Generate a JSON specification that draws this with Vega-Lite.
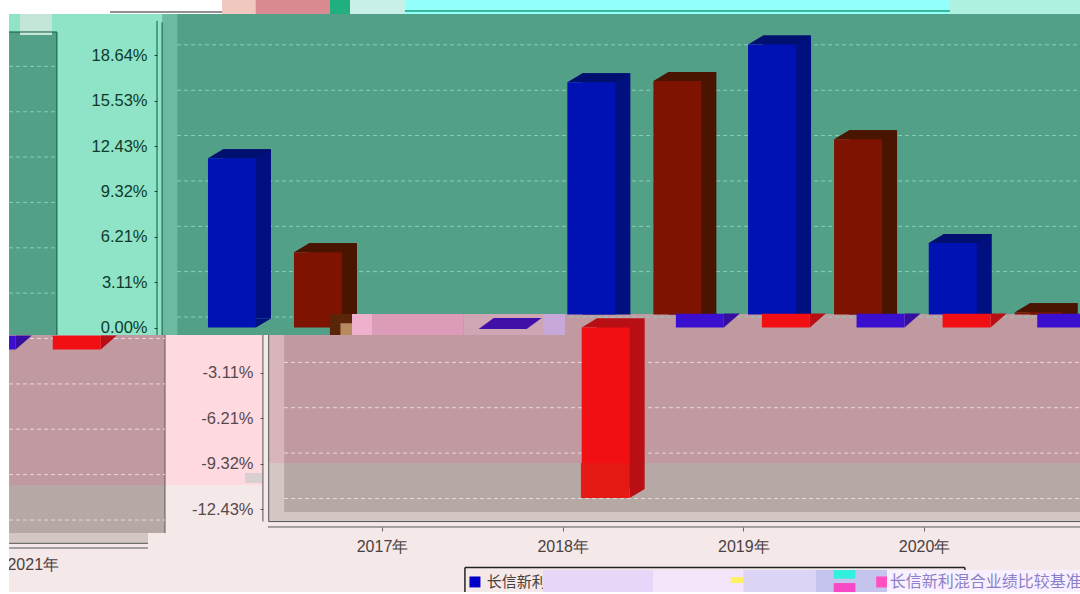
{
"$schema":"https://vega.github.io/schema/vega-lite/v6.json",
"autosize":{"type":"none"},"padding":0,"width":1080,"height":594,"background":"#ffffff",
"config":{"view":{"stroke":null}},
"data":{"values":[{"frame":"chart"}]},
"datasets":{
"early":[{"year":2017,"series":"长信新利混合","value":11.6},{"year":2017,"series":"长信新利混合业绩比较基准","value":5.15}],
"late":[{"year":2019,"series":"长信新利混合","value":15.9},{"year":2020,"series":"长信新利混合","value":18.5},{"year":2021,"series":"长信新利混合","value":4.9},{"year":2019,"series":"长信新利混合业绩比较基准","value":16.0},{"year":2020,"series":"长信新利混合业绩比较基准","value":12.0},{"year":2021,"series":"长信新利混合业绩比较基准","value":0.15}],
"neg":[{"year":2018,"series":"长信新利混合","value":-0.1},{"year":2018,"series":"长信新利混合业绩比较基准","value":-11.68}],
"seam":[{"year":2019,"series":"长信新利混合","value":0.95},{"year":2020,"series":"长信新利混合","value":0.95},{"year":2021,"series":"长信新利混合","value":0.95},{"year":2019,"series":"长信新利混合业绩比较基准","value":0.95},{"year":2020,"series":"长信新利混合业绩比较基准","value":0.95}],
"wrapped":[{"year":2021,"series":"长信新利混合","value":0.95},{"year":2021,"series":"长信新利混合业绩比较基准","value":0.95}],
"ticksPos":[{"tick":18.64},{"tick":15.53},{"tick":12.43},{"tick":9.32},{"tick":6.21},{"tick":3.11},{"tick":0}],
"ticksNeg":[{"tick":-3.11},{"tick":-6.21},{"tick":-9.32},{"tick":-12.43}],
"ticksNegZero":[{"tick":0},{"tick":-3.11},{"tick":-6.21},{"tick":-9.32},{"tick":-12.43}]
},
"resolve":{"axis":{"y":"independent"}},
"layer":[
{"mark":{"type":"rect","color":"#f5e8e8"},"encoding":{"x":{"datum":2014.936,"type":"quantitative","scale":{"domain":[2014.886,2020.863],"nice":false,"zero":false,"padding":0},"axis":{"values":[2017,2018,2019,2020],"orient":"bottom","offset":-67,"domain":false,"grid":false,"title":null,"tickSize":4,"tickColor":"#666666","labelExpr":"datum.value + '年'","labelFont":"Liberation Sans","labelFontSize":16,"labelColor":"#4a4040","labelPadding":7,"labelFlush":false,"labelOverlap":false,"zindex":1}},"x2":{"datum":2020.863},"y":{"datum":-0.514,"type":"quantitative","scale":{"domain":[-18.25,22.43],"nice":false,"zero":false},"axis":null},"y2":{"datum":-18.12}}},
{"mark":{"type":"rect","color":"#94fffa"},"encoding":{"x":{"datum":2016.546,"type":"quantitative"},"x2":{"datum":2020.863},"y":{"datum":22.43,"type":"quantitative","axis":null},"y2":{"datum":21.47}}},
{"mark":{"type":"rect","color":"#f0c8c0"},"encoding":{"x":{"datum":2016.115,"type":"quantitative"},"x2":{"datum":2016.3},"y":{"datum":22.43,"type":"quantitative","axis":null},"y2":{"datum":21.47}}},
{"mark":{"type":"rect","color":"#d88a90"},"encoding":{"x":{"datum":2016.3,"type":"quantitative"},"x2":{"datum":2016.712},"y":{"datum":22.43,"type":"quantitative","axis":null},"y2":{"datum":21.47}}},
{"mark":{"type":"rect","color":"#20b080"},"encoding":{"x":{"datum":2016.712,"type":"quantitative"},"x2":{"datum":2016.823},"y":{"datum":22.43,"type":"quantitative","axis":null},"y2":{"datum":21.47}}},
{"mark":{"type":"rect","color":"#c8f0e8"},"encoding":{"x":{"datum":2016.823,"type":"quantitative"},"x2":{"datum":2017.127},"y":{"datum":22.43,"type":"quantitative","axis":null},"y2":{"datum":21.47}}},
{"mark":{"type":"rect","color":"#b0f0e0"},"encoding":{"x":{"datum":2020.143,"type":"quantitative"},"x2":{"datum":2020.863},"y":{"datum":22.43,"type":"quantitative","axis":null},"y2":{"datum":21.47}}},
{"mark":{"type":"rule","color":"#38b89a","strokeWidth":2},"encoding":{"x":{"datum":2017.127,"type":"quantitative"},"x2":{"datum":2020.143},"y":{"datum":21.68,"type":"quantitative","axis":null}}},
{"mark":{"type":"rule","color":"#909090","strokeWidth":2},"encoding":{"x":{"datum":2015.495,"type":"quantitative"},"x2":{"datum":2016.115},"y":{"datum":21.6,"type":"quantitative","axis":null}}},
{"mark":{"type":"rect","color":"#8fe3c6"},"encoding":{"x":{"datum":2014.936,"type":"quantitative"},"x2":{"datum":2015.783},"y":{"datum":21.47,"type":"quantitative","axis":null},"y2":{"datum":-0.514}}},
{"mark":{"type":"rect","color":"#52a087"},"encoding":{"x":{"datum":2014.936,"type":"quantitative"},"x2":{"datum":2015.201},"y":{"datum":20.24,"type":"quantitative","axis":null},"y2":{"datum":-0.514}}},
{"mark":{"type":"rect","color":"#c4e6d6"},"encoding":{"x":{"datum":2014.997,"type":"quantitative"},"x2":{"datum":2015.174},"y":{"datum":21.47,"type":"quantitative","axis":null},"y2":{"datum":20.03}}},
{"mark":{"type":"rect","color":"#6cbaa2"},"encoding":{"x":{"datum":2015.783,"type":"quantitative"},"x2":{"datum":2015.866},"y":{"datum":21.47,"type":"quantitative","axis":null},"y2":{"datum":-0.514}}},
{"mark":{"type":"rect","color":"#52a087"},"encoding":{"x":{"datum":2015.866,"type":"quantitative"},"x2":{"datum":2020.863},"y":{"datum":21.47,"type":"quantitative","axis":null},"y2":{"datum":-0.514}}},
{"mark":{"type":"rect","color":"#c09aa0"},"encoding":{"x":{"datum":2014.936,"type":"quantitative"},"x2":{"datum":2015.799},"y":{"datum":-0.514,"type":"quantitative","axis":null},"y2":{"datum":-10.79}}},
{"mark":{"type":"rect","color":"#b5a8a5"},"encoding":{"x":{"datum":2014.936,"type":"quantitative"},"x2":{"datum":2015.799},"y":{"datum":-10.79,"type":"quantitative","axis":null},"y2":{"datum":-14.08}}},
{"mark":{"type":"rect","color":"#d3c6c3"},"encoding":{"x":{"datum":2014.936,"type":"quantitative"},"x2":{"datum":2015.705},"y":{"datum":-14.08,"type":"quantitative","axis":null},"y2":{"datum":-14.76}}},
{"mark":{"type":"rect","color":"#ffd9e0"},"encoding":{"x":{"datum":2015.799,"type":"quantitative"},"x2":{"datum":2016.341},"y":{"datum":-0.514,"type":"quantitative","axis":null},"y2":{"datum":-10.79}}},
{"mark":{"type":"rect","color":"#d8b4bc"},"encoding":{"x":{"datum":2016.373,"type":"quantitative"},"x2":{"datum":2016.458},"y":{"datum":-0.514,"type":"quantitative","axis":null},"y2":{"datum":-9.28}}},
{"mark":{"type":"rect","color":"#d3c6c3"},"encoding":{"x":{"datum":2016.373,"type":"quantitative"},"x2":{"datum":2016.458},"y":{"datum":-9.28,"type":"quantitative","axis":null},"y2":{"datum":-13.29}}},
{"mark":{"type":"rect","color":"#c09aa0"},"encoding":{"x":{"datum":2016.458,"type":"quantitative"},"x2":{"datum":2020.863},"y":{"datum":-0.514,"type":"quantitative","axis":null},"y2":{"datum":-9.28}}},
{"mark":{"type":"rect","color":"#c09aa0"},"encoding":{"x":{"datum":2018.013,"type":"quantitative"},"x2":{"datum":2020.863},"y":{"datum":0.925,"type":"quantitative","axis":null},"y2":{"datum":-0.514}}},
{"mark":{"type":"rect","color":"#b5a8a5"},"encoding":{"x":{"datum":2016.458,"type":"quantitative"},"x2":{"datum":2020.863},"y":{"datum":-9.28,"type":"quantitative","axis":null},"y2":{"datum":-12.64}}},
{"mark":{"type":"rect","color":"#d3c6c3"},"encoding":{"x":{"datum":2016.458,"type":"quantitative"},"x2":{"datum":2020.863},"y":{"datum":-12.64,"type":"quantitative","axis":null},"y2":{"datum":-13.29}}},
{"mark":{"type":"rule","color":"#555555"},"encoding":{"x":{"datum":2016.373,"type":"quantitative"},"x2":{"datum":2020.863},"y":{"datum":-13.29,"type":"quantitative","axis":null}}},
{"mark":{"type":"rule","color":"#555555"},"encoding":{"x":{"datum":2016.369,"type":"quantitative"},"x2":{"datum":2020.863},"y":{"datum":-13.66,"type":"quantitative","axis":null}}},
{"mark":{"type":"rule","color":"#555555"},"encoding":{"x":{"datum":2014.936,"type":"quantitative"},"x2":{"datum":2015.705},"y":{"datum":-14.78,"type":"quantitative","axis":null}}},
{"mark":{"type":"rule","color":"#555555"},"encoding":{"x":{"datum":2014.936,"type":"quantitative"},"x2":{"datum":2015.705},"y":{"datum":-15.1,"type":"quantitative","axis":null}}},
{"mark":{"type":"rule","color":"#555555"},"encoding":{"x":{"datum":2015.799,"type":"quantitative"},"y":{"datum":-0.514,"type":"quantitative","axis":null},"y2":{"datum":-14.08}}},
{"mark":{"type":"rule","color":"#555555"},"encoding":{"x":{"datum":2016.341,"type":"quantitative"},"y":{"datum":-0.514,"type":"quantitative","axis":null},"y2":{"datum":-13.29}}},
{"mark":{"type":"rule","color":"#555555"},"encoding":{"x":{"datum":2016.373,"type":"quantitative"},"y":{"datum":-0.514,"type":"quantitative","axis":null},"y2":{"datum":-13.29}}},
{"mark":{"type":"rule","color":"#0e5a44"},"encoding":{"x":{"datum":2015.755,"type":"quantitative"},"y":{"datum":21.0,"type":"quantitative","axis":null},"y2":{"datum":-0.514}}},
{"mark":{"type":"rule","color":"#0e5a44"},"encoding":{"x":{"datum":2015.783,"type":"quantitative"},"y":{"datum":20.9,"type":"quantitative","axis":null},"y2":{"datum":-0.514}}},
{"mark":{"type":"rule","color":"#0e5a44"},"encoding":{"x":{"datum":2015.201,"type":"quantitative"},"y":{"datum":20.24,"type":"quantitative","axis":null},"y2":{"datum":-0.514}}},
{"mark":{"type":"rule","color":"#0e5a44"},"encoding":{"x":{"datum":2014.936,"type":"quantitative"},"x2":{"datum":2015.201},"y":{"datum":20.24,"type":"quantitative","axis":null}}},
{"mark":{"type":"rect","color":"#d8d0d0"},"encoding":{"x":{"datum":2016.242,"type":"quantitative"},"x2":{"datum":2016.336},"y":{"datum":-9.97,"type":"quantitative","axis":null},"y2":{"datum":-10.65}}},
{"data":{"name":"ticksPos"},"mark":{"type":"rule","color":"#8ccdb8","strokeWidth":1,"strokeDash":[4,3],"yOffset":-10.5},"encoding":{"x":{"datum":2015.866,"type":"quantitative"},"x2":{"datum":2020.863},"y":{"field":"tick","type":"quantitative","axis":{"orient":"left","offset":-157,"values":[18.64,15.53,12.43,9.32,6.21,3.11,0],"labelExpr":"format(datum.value,'.2f') + '%'","title":null,"domain":false,"grid":false,"tickSize":3,"tickColor":"#0e4a38","labelColor":"#0e3a2c","labelFont":"Liberation Sans","labelFontSize":16.5,"labelPadding":7,"labelOverlap":false,"labelFlush":false,"zindex":1}}}},
{"data":{"name":"ticksPos"},"mark":{"type":"rule","color":"#8ccdb8","strokeWidth":1,"strokeDash":[4,3],"yOffset":11},"encoding":{"x":{"datum":2014.936,"type":"quantitative"},"x2":{"datum":2015.201},"y":{"field":"tick","type":"quantitative","axis":null}}},
{"data":{"name":"ticksNeg"},"mark":{"type":"rule","color":"#e8d8da","strokeWidth":1,"strokeDash":[4,3],"yOffset":-10.5},"encoding":{"x":{"datum":2016.458,"type":"quantitative"},"x2":{"datum":2020.863},"y":{"field":"tick","type":"quantitative","axis":{"orient":"left","offset":-263,"values":[-3.11,-6.21,-9.32,-12.43],"labelExpr":"'-' + format(abs(datum.value),'.2f') + '%'","title":null,"domain":false,"grid":false,"tickSize":3,"tickColor":"#555555","labelColor":"#554a4e","labelFont":"Liberation Sans","labelFontSize":16.5,"labelPadding":7,"labelOverlap":false,"labelFlush":false,"zindex":1}}}},
{"data":{"name":"ticksNegZero"},"mark":{"type":"rule","color":"#e8d8da","strokeWidth":1,"strokeDash":[4,3],"yOffset":11},"encoding":{"x":{"datum":2014.936,"type":"quantitative"},"x2":{"datum":2015.799},"y":{"field":"tick","type":"quantitative","axis":null}}},
{"data":{"name":"early"},"transform":[{"filter":"datum.series == '长信新利混合'"}],"mark":{"type":"bar","orient":"vertical","width":48,"color":"#001080","xOffset":-135,"yOffset":-9,"y2Offset":-9},"encoding":{"x":{"field":"year","type":"quantitative"},"y":{"field":"value","type":"quantitative","axis":null},"y2":{"datum":0}}},
{"data":{"name":"early"},"transform":[{"filter":"datum.series == '长信新利混合'"}],"mark":{"type":"point","filled":true,"opacity":1,"strokeWidth":0,"size":10000,"shape":"M-0.48,0L0.48,0L0.78,-0.18L-0.18,-0.18Z","color":"#001070","xOffset":-150},"encoding":{"x":{"field":"year","type":"quantitative"},"y":{"field":"value","type":"quantitative","axis":null}}},
{"data":{"name":"early"},"transform":[{"filter":"datum.series == '长信新利混合'"}],"mark":{"type":"point","filled":true,"opacity":1,"strokeWidth":0,"size":10000,"shape":"M0.48,0L0.78,-0.18L0.48,-0.18Z","color":"#001080","xOffset":-150},"encoding":{"x":{"field":"year","type":"quantitative"},"y":{"datum":0,"type":"quantitative","axis":null}}},
{"data":{"name":"early"},"transform":[{"filter":"datum.series == '长信新利混合'"}],"mark":{"type":"bar","orient":"vertical","width":48,"color":"#0012b4","xOffset":-150},"encoding":{"x":{"field":"year","type":"quantitative"},"y":{"field":"value","type":"quantitative","axis":null},"y2":{"datum":0}}},
{"data":{"name":"early"},"transform":[{"filter":"datum.series != '长信新利混合'"}],"mark":{"type":"bar","orient":"vertical","width":48,"color":"#4a1500","xOffset":-49,"yOffset":-9,"y2Offset":-9},"encoding":{"x":{"field":"year","type":"quantitative"},"y":{"field":"value","type":"quantitative","axis":null},"y2":{"datum":0}}},
{"data":{"name":"early"},"transform":[{"filter":"datum.series != '长信新利混合'"}],"mark":{"type":"point","filled":true,"opacity":1,"strokeWidth":0,"size":10000,"shape":"M-0.48,0L0.48,0L0.78,-0.18L-0.18,-0.18Z","color":"#4a1500","xOffset":-64},"encoding":{"x":{"field":"year","type":"quantitative"},"y":{"field":"value","type":"quantitative","axis":null}}},
{"data":{"name":"early"},"transform":[{"filter":"datum.series != '长信新利混合'"}],"mark":{"type":"bar","orient":"vertical","width":48,"color":"#7d1300","xOffset":-64},"encoding":{"x":{"field":"year","type":"quantitative"},"y":{"field":"value","type":"quantitative","axis":null},"y2":{"datum":0}}},
{"data":{"name":"late"},"transform":[{"filter":"datum.series == '长信新利混合'"}],"mark":{"type":"bar","orient":"vertical","width":48,"color":"#001080","xOffset":-137,"yOffset":-22,"y2Offset":-13},"encoding":{"x":{"field":"year","type":"quantitative"},"y":{"field":"value","type":"quantitative","axis":null},"y2":{"datum":0}}},
{"data":{"name":"late"},"transform":[{"filter":"datum.series == '长信新利混合'"}],"mark":{"type":"point","filled":true,"opacity":1,"strokeWidth":0,"size":10000,"shape":"M-0.48,0L0.48,0L0.78,-0.18L-0.18,-0.18Z","color":"#001070","xOffset":-152,"yOffset":-13},"encoding":{"x":{"field":"year","type":"quantitative"},"y":{"field":"value","type":"quantitative","axis":null}}},
{"data":{"name":"late"},"transform":[{"filter":"datum.series == '长信新利混合'"}],"mark":{"type":"bar","orient":"vertical","width":48,"color":"#0012b4","xOffset":-152,"yOffset":-13,"y2Offset":-13},"encoding":{"x":{"field":"year","type":"quantitative"},"y":{"field":"value","type":"quantitative","axis":null},"y2":{"datum":0}}},
{"data":{"name":"late"},"transform":[{"filter":"datum.series != '长信新利混合'"}],"mark":{"type":"bar","orient":"vertical","width":48,"color":"#4a1500","xOffset":-51,"yOffset":-22,"y2Offset":-13},"encoding":{"x":{"field":"year","type":"quantitative"},"y":{"field":"value","type":"quantitative","axis":null},"y2":{"datum":0}}},
{"data":{"name":"late"},"transform":[{"filter":"datum.series != '长信新利混合'"}],"mark":{"type":"point","filled":true,"opacity":1,"strokeWidth":0,"size":10000,"shape":"M-0.48,0L0.48,0L0.78,-0.18L-0.18,-0.18Z","color":"#4a1500","xOffset":-66,"yOffset":-13},"encoding":{"x":{"field":"year","type":"quantitative"},"y":{"field":"value","type":"quantitative","axis":null}}},
{"data":{"name":"late"},"transform":[{"filter":"datum.series != '长信新利混合'"}],"mark":{"type":"bar","orient":"vertical","width":48,"color":"#7d1300","xOffset":-66,"yOffset":-13,"y2Offset":-13},"encoding":{"x":{"field":"year","type":"quantitative"},"y":{"field":"value","type":"quantitative","axis":null},"y2":{"datum":0}}},
{"mark":{"type":"rect","color":"#5a2508"},"encoding":{"x":{"datum":2016.712,"type":"quantitative"},"x2":{"datum":2016.834},"y":{"datum":0.925,"type":"quantitative","axis":null},"y2":{"datum":-0.514}}},
{"mark":{"type":"rect","color":"#b88a60"},"encoding":{"x":{"datum":2016.77,"type":"quantitative"},"x2":{"datum":2016.945},"y":{"datum":0.3,"type":"quantitative","axis":null},"y2":{"datum":-0.514}}},
{"mark":{"type":"rect","color":"#eeb0cc"},"encoding":{"x":{"datum":2016.834,"type":"quantitative"},"x2":{"datum":2016.945},"y":{"datum":0.925,"type":"quantitative","axis":null},"y2":{"datum":-0.514}}},
{"mark":{"type":"rect","color":"#dc9cb8"},"encoding":{"x":{"datum":2016.945,"type":"quantitative"},"x2":{"datum":2017.45},"y":{"datum":0.925,"type":"quantitative","axis":null},"y2":{"datum":-0.514}}},
{"mark":{"type":"rect","color":"#cfa6b4"},"encoding":{"x":{"datum":2017.45,"type":"quantitative"},"x2":{"datum":2017.891},"y":{"datum":0.925,"type":"quantitative","axis":null},"y2":{"datum":-0.514}}},
{"mark":{"type":"rect","color":"#c8a8d8"},"encoding":{"x":{"datum":2017.891,"type":"quantitative"},"x2":{"datum":2018.013},"y":{"datum":0.925,"type":"quantitative","axis":null},"y2":{"datum":-0.514}}},
{"data":{"name":"neg"},"transform":[{"filter":"datum.series == '长信新利混合'"}],"mark":{"type":"point","filled":true,"opacity":1,"strokeWidth":0,"size":10000,"shape":"M-0.48,0L0.48,0L0.78,-0.22L-0.18,-0.22Z","color":"#4010a8","xOffset":-60},"encoding":{"x":{"field":"year","type":"quantitative"},"y":{"field":"value","type":"quantitative","axis":null}}},
{"data":{"name":"neg"},"transform":[{"filter":"datum.series != '长信新利混合'"}],"mark":{"type":"bar","orient":"vertical","width":48,"color":"#b80f14","xOffset":58,"yOffset":-9,"y2Offset":-9},"encoding":{"x":{"field":"year","type":"quantitative"},"y":{"field":"value","type":"quantitative","axis":null},"y2":{"datum":0}}},
{"data":{"name":"neg"},"transform":[{"filter":"datum.series != '长信新利混合'"}],"mark":{"type":"point","filled":true,"opacity":1,"strokeWidth":0,"size":10000,"shape":"M-0.48,0L0.48,0L0.78,-0.18L-0.18,-0.18Z","color":"#b80f14","xOffset":43},"encoding":{"x":{"field":"year","type":"quantitative"},"y":{"datum":0,"type":"quantitative","axis":null}}},
{"data":{"name":"neg"},"transform":[{"filter":"datum.series != '长信新利混合'"}],"mark":{"type":"point","filled":true,"opacity":1,"strokeWidth":0,"size":10000,"shape":"M0.48,0L0.78,-0.18L0.48,-0.18Z","color":"#b80f14","xOffset":43},"encoding":{"x":{"field":"year","type":"quantitative"},"y":{"field":"value","type":"quantitative","axis":null}}},
{"data":{"name":"neg"},"transform":[{"filter":"datum.series != '长信新利混合'"}],"mark":{"type":"bar","orient":"vertical","width":48,"color":"#f20f14","xOffset":43},"encoding":{"x":{"field":"year","type":"quantitative"},"y":{"field":"value","type":"quantitative","axis":null},"y2":{"datum":0}}},
{"mark":{"type":"rect","color":"#e61a14"},"encoding":{"x":{"datum":2018.101,"type":"quantitative"},"x2":{"datum":2018.367},"y":{"datum":-9.28,"type":"quantitative","axis":null},"y2":{"datum":-11.68}}},
{"data":{"name":"seam"},"transform":[{"filter":"datum.series == '长信新利混合'"}],"mark":{"type":"point","filled":true,"opacity":1,"strokeWidth":0,"size":10000,"shape":"M0.48,0L0.8,-0.28L0.48,-0.28Z","color":"#3510a0","xOffset":-43.5},"encoding":{"x":{"field":"year","type":"quantitative"},"y":{"datum":0,"type":"quantitative","axis":null}}},
{"data":{"name":"seam"},"transform":[{"filter":"datum.series == '长信新利混合'"}],"mark":{"type":"bar","orient":"vertical","width":48,"color":"#3a0fd0","xOffset":-43.5},"encoding":{"x":{"field":"year","type":"quantitative"},"y":{"field":"value","type":"quantitative","axis":null},"y2":{"datum":0}}},
{"data":{"name":"seam"},"transform":[{"filter":"datum.series != '长信新利混合'"}],"mark":{"type":"point","filled":true,"opacity":1,"strokeWidth":0,"size":10000,"shape":"M0.48,0L0.8,-0.28L0.48,-0.28Z","color":"#b80f14","xOffset":42.5},"encoding":{"x":{"field":"year","type":"quantitative"},"y":{"datum":0,"type":"quantitative","axis":null}}},
{"data":{"name":"seam"},"transform":[{"filter":"datum.series != '长信新利混合'"}],"mark":{"type":"bar","orient":"vertical","width":48,"color":"#f20f14","xOffset":42.5},"encoding":{"x":{"field":"year","type":"quantitative"},"y":{"field":"value","type":"quantitative","axis":null},"y2":{"datum":0}}},
{"data":{"name":"wrapped"},"transform":[{"filter":"datum.series == '长信新利混合'"}],"mark":{"type":"point","filled":true,"opacity":1,"strokeWidth":0,"size":10000,"shape":"M0.48,0L0.8,-0.28L0.48,-0.28Z","color":"#3510a0","xOffset":-1113,"yOffset":22},"encoding":{"x":{"field":"year","type":"quantitative"},"y":{"datum":0,"type":"quantitative","axis":null}}},
{"data":{"name":"wrapped"},"transform":[{"filter":"datum.series == '长信新利混合'"}],"mark":{"type":"bar","orient":"vertical","width":48,"color":"#3a0fd0","xOffset":-1113,"yOffset":22,"y2Offset":22},"encoding":{"x":{"field":"year","type":"quantitative"},"y":{"field":"value","type":"quantitative","axis":null},"y2":{"datum":0}}},
{"data":{"name":"wrapped"},"transform":[{"filter":"datum.series != '长信新利混合'"}],"mark":{"type":"point","filled":true,"opacity":1,"strokeWidth":0,"size":10000,"shape":"M0.48,0L0.8,-0.28L0.48,-0.28Z","color":"#b80f14","xOffset":-1028,"yOffset":22},"encoding":{"x":{"field":"year","type":"quantitative"},"y":{"datum":0,"type":"quantitative","axis":null}}},
{"data":{"name":"wrapped"},"transform":[{"filter":"datum.series != '长信新利混合'"}],"mark":{"type":"bar","orient":"vertical","width":48,"color":"#f20f14","xOffset":-1028,"yOffset":22,"y2Offset":22},"encoding":{"x":{"field":"year","type":"quantitative"},"y":{"field":"value","type":"quantitative","axis":null},"y2":{"datum":0}}},
{"mark":{"type":"text","text":"2021年","font":"Liberation Sans","fontSize":16,"color":"#4a4040","align":"center","baseline":"middle"},"encoding":{"x":{"datum":2015.07,"type":"quantitative"},"y":{"datum":-16.27,"type":"quantitative","axis":null}}},
{"mark":{"type":"rule","color":"#222222","strokeWidth":1.5},"encoding":{"x":{"datum":2017.459,"type":"quantitative"},"x2":{"datum":2020.226},"y":{"datum":-16.44,"type":"quantitative","axis":null}}},
{"mark":{"type":"rule","color":"#222222","strokeWidth":1.5},"encoding":{"x":{"datum":2017.459,"type":"quantitative"},"y":{"datum":-16.44,"type":"quantitative","axis":null},"y2":{"datum":-18.12}}},
{"mark":{"type":"rule","color":"#222222","strokeWidth":1.5},"encoding":{"x":{"datum":2020.226,"type":"quantitative"},"y":{"datum":-16.44,"type":"quantitative","axis":null},"y2":{"datum":-16.6}}},
{"mark":{"type":"rect","color":"#0000c8"},"encoding":{"x":{"datum":2017.484,"type":"quantitative"},"x2":{"datum":2017.545},"y":{"datum":-17.05,"type":"quantitative","axis":null},"y2":{"datum":-17.8}}},
{"mark":{"type":"text","text":"长信新利混合","font":"Noto Sans CJK SC","fontSize":15,"color":"#4a4040","align":"left","baseline":"middle"},"encoding":{"x":{"datum":2017.58,"type":"quantitative"},"y":{"datum":-17.43,"type":"quantitative","axis":null}}},
{"mark":{"type":"rect","color":"#e8d6f8"},"encoding":{"x":{"datum":2017.891,"type":"quantitative"},"x2":{"datum":2018.5},"y":{"datum":-16.61,"type":"quantitative","axis":null},"y2":{"datum":-18.12}}},
{"mark":{"type":"rect","color":"#f4e4fa"},"encoding":{"x":{"datum":2018.5,"type":"quantitative"},"x2":{"datum":2019.0},"y":{"datum":-16.61,"type":"quantitative","axis":null},"y2":{"datum":-18.12}}},
{"mark":{"type":"rect","color":"#dcd4f4"},"encoding":{"x":{"datum":2019.0,"type":"quantitative"},"x2":{"datum":2019.4},"y":{"datum":-16.61,"type":"quantitative","axis":null},"y2":{"datum":-18.12}}},
{"mark":{"type":"rect","color":"#c4c4ec"},"encoding":{"x":{"datum":2019.4,"type":"quantitative"},"x2":{"datum":2019.795},"y":{"datum":-16.61,"type":"quantitative","axis":null},"y2":{"datum":-18.12}}},
{"mark":{"type":"rect","color":"#fff060"},"encoding":{"x":{"datum":2018.93,"type":"quantitative"},"x2":{"datum":2019.0},"y":{"datum":-17.1,"type":"quantitative","axis":null},"y2":{"datum":-17.5}}},
{"mark":{"type":"rect","color":"#30f0e0"},"encoding":{"x":{"datum":2019.5,"type":"quantitative"},"x2":{"datum":2019.62},"y":{"datum":-16.61,"type":"quantitative","axis":null},"y2":{"datum":-17.2}}},
{"mark":{"type":"rect","color":"#f848c8"},"encoding":{"x":{"datum":2019.5,"type":"quantitative"},"x2":{"datum":2019.62},"y":{"datum":-17.5,"type":"quantitative","axis":null},"y2":{"datum":-18.12}}},
{"mark":{"type":"rect","color":"#f8f0ff"},"encoding":{"x":{"datum":2019.795,"type":"quantitative"},"x2":{"datum":2020.863},"y":{"datum":-16.61,"type":"quantitative","axis":null},"y2":{"datum":-18.12}}},
{"mark":{"type":"rect","color":"#ff4fc0"},"encoding":{"x":{"datum":2019.735,"type":"quantitative"},"x2":{"datum":2019.795},"y":{"datum":-17.05,"type":"quantitative","axis":null},"y2":{"datum":-17.8}}},
{"mark":{"type":"text","text":"长信新利混合业绩比较基准","font":"Noto Sans CJK SC","fontSize":16,"color":"#8a80c8","align":"left","baseline":"middle"},"encoding":{"x":{"datum":2019.81,"type":"quantitative"},"y":{"datum":-17.43,"type":"quantitative","axis":null}}},
{"mark":{"type":"rect","color":"#ffffff"},"encoding":{"x":{"datum":2014.886,"type":"quantitative"},"x2":{"datum":2014.936},"y":{"datum":22.43,"type":"quantitative","axis":null},"y2":{"datum":-18.25}}}
]
}
